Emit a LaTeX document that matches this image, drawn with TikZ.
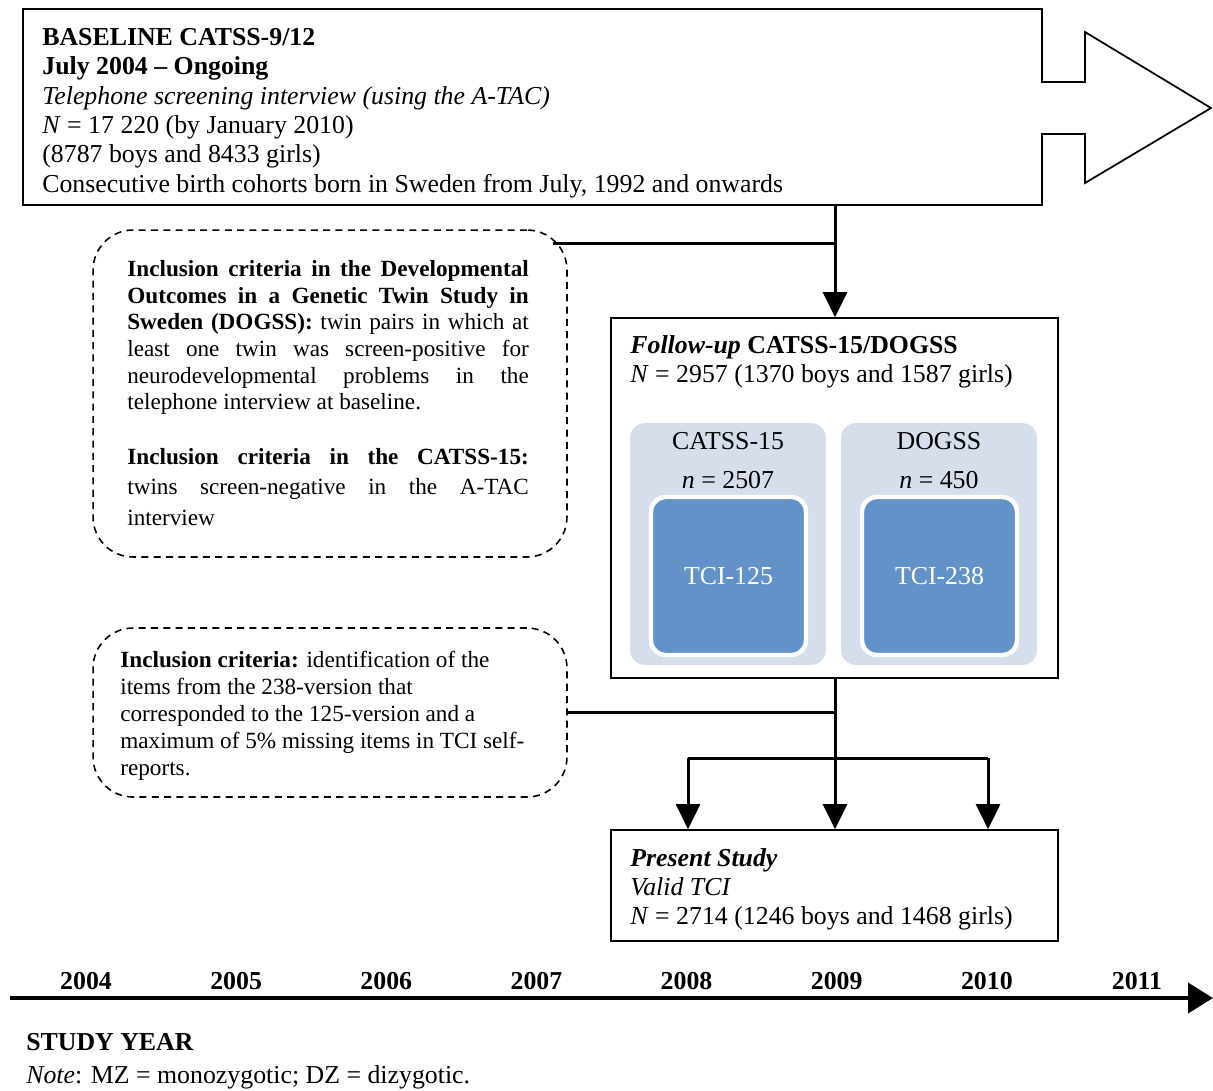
\documentclass[tikz,border=0pt]{standalone}
\usepackage{fontspec}
\setmainfont{Liberation Serif}
\usetikzlibrary{calc,arrows.meta,positioning}

\definecolor{panelgray}{RGB}{214,222,236}
\definecolor{tciblue}{RGB}{99,146,200}

\newcommand{\bigtxt}{\fontsize{14.7}{16.7}\selectfont}
\newcommand{\smalltxt}{\fontsize{13.2}{15.2}\selectfont}

\begin{document}
\begin{tikzpicture}[x=0.02cm,y=-0.02cm,
	box/.style={draw,line width=1pt,inner sep=0pt},
	critbox/.style={draw,line width=0.9pt,dash pattern=on 4pt off 3pt,rounded corners=0.8cm,inner sep=0pt},
	panel/.style={fill=panelgray,rounded corners=0.3cm,inner sep=0pt,minimum width=3.92cm,minimum height=4.84cm},
	tcibox/.style={fill=tciblue,draw=white,line width=2.5pt,rounded corners=0.3cm,inner sep=0pt,minimum width=3.1cm,minimum height=3.16cm,text=white,font=\bigtxt},
	txt/.style={anchor=north west,inner sep=0pt,align=left,font=\bigtxt},
	link/.style={line width=1.7pt},
	flow/.style={line width=1.7pt,-{Triangle[width=0.48cm,length=0.5cm]}},
	yearlbl/.style={font=\bigtxt\bfseries,inner sep=0pt},
	]

	\useasboundingbox (0,0) rectangle (1213,1090);

	\draw[box] (23,9) -- (1042,9) -- (1042,82) -- (1085,82) -- (1085,32) -- (1211,108)
		-- (1085,183) -- (1085,134) -- (1042,134) -- (1042,205) -- (23,205) -- cycle;
	\coordinate (base) at (835,205);
	\node[txt] (basetxt) at (42,28) {\textbf{BASELINE CATSS-9/12}\\
		\textbf{July 2004 -- Ongoing}\\
		\textit{Telephone screening interview (using the A-TAC)}\\
		\textit{N} = 17 220 (by January 2010)\\
		(8787 boys and 8433 girls)\\
		Consecutive birth cohorts born in Sweden from July, 1992 and onwards};

	\node[critbox, minimum width=9.48cm, minimum height=6.54cm] (crit) at (330,393.5) {};
	\node[txt, font=\smalltxt, text width=228.5pt, align=justify] (crittxt) at (127,260)
		{\textbf{Inclusion criteria in the Developmental}\linebreak
		\textbf{Outcomes in a Genetic Twin Study in}\linebreak
		\textbf{Sweden (DOGSS):} twin pairs in which at\linebreak
		least one twin was screen-positive for\linebreak
		neurodevelopmental problems in the\linebreak
		telephone interview at baseline.};
	\node[txt, font=\fontsize{13.2}{17.3}\selectfont, text width=228.5pt, align=justify] (catsstxt) at (127,448)
		{\textbf{Inclusion criteria in the CATSS-15:}\linebreak
		twins screen-negative in the A-TAC\linebreak
		interview};
	\coordinate (critjoin) at (553,243);

	\node[box, minimum width=8.94cm, minimum height=7.2cm] (followup) at (834.5,498) {};
	\node[txt] (followtxt) at (630,335) {\textbf{\textit{Follow-up} CATSS-15/DOGSS}\\
		\textit{N} = 2957 (1370 boys and 1587 girls)};

	\node[panel] (catss) at (728,544) {};
	\node[panel] (dogss) at (939,544) {};
	\node[font=\bigtxt] (catssname) at (728,441) {CATSS-15};
	\node[font=\bigtxt] (catssn) at (728,480) {\textit{n} = 2507};
	\node[font=\bigtxt] (dogssname) at (939,441) {DOGSS};
	\node[font=\bigtxt] (dogssn) at (939,480) {\textit{n} = 450};
	\node[tcibox] (tcia) at (728.5,576) {TCI-125};
	\node[tcibox] (tcib) at (939.5,576) {TCI-238};

	\node[critbox, minimum width=9.48cm, minimum height=3.38cm] (selcrit) at (330,712.5) {};
	\node[txt, font=\fontsize{13.2}{15.3}\selectfont] (seltxt) at (120,651)
		{\textbf{Inclusion criteria:} identification of the\\
		items from the 238-version that\\
		corresponded to the 125-version and a\\
		maximum of 5\% missing items in TCI self-\\
		reports.};

	\node[box, minimum width=8.94cm, minimum height=2.22cm] (present) at (834.5,885.5) {};
	\node[txt] (presenttxt) at (630,848) {\textbf{\textit{Present Study}}\\
		\textit{Valid TCI}\\
		\textit{N} = 2714 (1246 boys and 1468 girls)};

	\draw[link] (critjoin) -- (critjoin -| base);
	\draw[flow] (base) -- (base |- followup.north);

	\coordinate (forkl) at (688,758);
	\coordinate (forkr) at (988,758);
	\draw[link] (followup.south -| base) -- (base |- forkl);
	\draw[link] (selcrit.east) -- (selcrit.east -| base);
	\draw[link] (forkl) -- (forkr);
	\draw[flow] (forkl) -- (forkl |- present.north);
	\draw[flow] (base |- forkl) -- (base |- present.north);
	\draw[flow] (forkr) -- (forkr |- present.north);

	\foreach \yr [count=\i from 0] in {2004,2005,2006,2007,2008,2009,2010,2011}
		\node[yearlbl] (y\yr) at (86+150.14*\i,981) {\yr};

	\coordinate (tstart) at (10,998);
	\coordinate (tend) at (1213,998);
	\draw[line width=2.3pt,-{Triangle[width=0.6cm,length=0.5cm]}] (tstart) -- (tend);

	\node[anchor=west,inner sep=0pt,font=\bigtxt\bfseries] (studyyear) at (26,1042) {STUDY YEAR};
	\node[anchor=west,inner sep=0pt,font=\bigtxt] (note) at (26,1077) {\textit{Note}: MZ = monozygotic; DZ = dizygotic.};

\end{tikzpicture}
\end{document}
